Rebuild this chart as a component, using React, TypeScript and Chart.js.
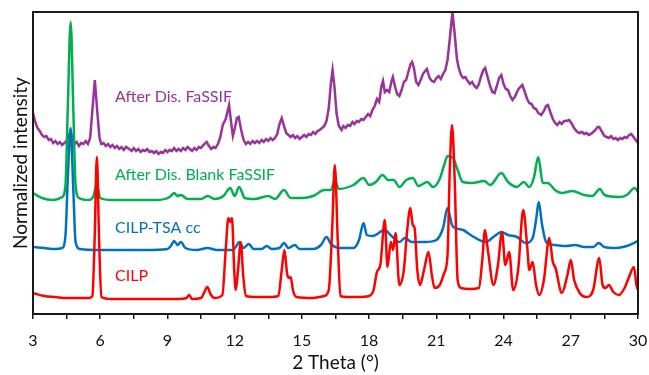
import React, { useEffect, useRef } from "react";
import { Chart, registerables } from "chart.js";
Chart.register(...registerables);

// ---- Data (2θ in degrees, stacked normalized intensity in arbitrary units) ----
const xTicksMin = 3;
const xTicksMax = 30;

const cilpX = [3.0, 3.5, 4.0, 4.5, 5.0, 5.5, 5.65, 5.75, 5.85, 5.95, 6.05, 6.5, 7.5, 8.5, 9.5, 9.85, 9.97, 10.1, 10.5, 10.65, 10.78, 10.92, 11.1, 11.45, 11.6, 11.72, 11.8, 11.88, 11.98, 12.05, 12.15, 12.27, 12.38, 12.5, 13.0, 13.5, 13.95, 14.1, 14.22, 14.35, 14.45, 14.5, 14.6, 14.75, 15.5, 16.0, 16.2, 16.35, 16.47, 16.6, 16.72, 17.0, 17.5, 18.0, 18.2, 18.35, 18.5, 18.7, 18.82, 18.97, 19.07, 19.18, 19.35, 19.55, 19.7, 19.84, 19.95, 20.03, 20.15, 20.27, 20.45, 20.65, 20.8, 20.92, 21.15, 21.35, 21.5, 21.6, 21.7, 21.82, 21.95, 22.1, 22.5, 22.9, 23.05, 23.17, 23.3, 23.55, 23.75, 23.93, 24.08, 24.25, 24.43, 24.65, 24.88, 25.05, 25.15, 25.3, 25.45, 25.6, 25.8, 26.04, 26.2, 26.32, 26.6, 26.85, 27.0, 27.15, 27.4, 27.7, 28.0, 28.27, 28.42, 28.55, 28.7, 28.9, 29.15, 29.4, 29.6, 29.82, 29.93, 30.0];
const cilpY = [21, 18, 17, 16, 16, 16, 18, 74, 157, 74, 17, 15, 15, 15, 15, 16, 19, 15, 16, 22, 27, 20, 16, 19, 64, 96, 92, 96, 44, 24, 44, 72, 39, 18, 17, 17, 18, 44, 64, 39, 36, 37, 24, 17, 16, 18, 24, 84, 149, 74, 18, 17, 17, 18, 24, 42, 49, 94, 47, 72, 64, 81, 29, 44, 84, 106, 89, 86, 44, 29, 44, 62, 39, 26, 29, 41, 59, 144, 189, 134, 34, 26, 25, 26, 54, 84, 64, 29, 49, 82, 49, 62, 24, 44, 104, 69, 44, 52, 29, 19, 34, 76, 52, 46, 21, 39, 54, 34, 21, 17, 24, 56, 29, 26, 29, 22, 19, 26, 37, 47, 29, 24];

const tsaX = [3.0, 3.5, 4.0, 4.3, 4.45, 4.56, 4.68, 4.8, 4.9, 5.1, 6.0, 7.0, 8.0, 9.0, 9.15, 9.3, 9.45, 9.6, 9.8, 10.3, 10.8, 11.2, 11.9, 12.05, 12.2, 12.4, 12.63, 12.85, 13.2, 13.43, 13.65, 14.0, 14.2, 14.4, 14.68, 14.9, 15.5, 15.85, 16.1, 16.3, 16.7, 17.3, 17.55, 17.75, 17.9, 18.15, 18.7, 19.0, 19.35, 19.6, 19.9, 20.5, 21.0, 21.3, 21.5, 21.7, 21.85, 22.2, 22.6, 23.2, 23.6, 23.9, 24.2, 24.6, 25.0, 25.3, 25.45, 25.57, 25.72, 25.9, 26.3, 26.8, 27.2, 27.6, 28.0, 28.25, 28.5, 29.0, 29.5, 30.0];
const tsaY = [67, 66, 65, 66, 79, 140, 186, 124, 72, 65, 64, 64, 64, 65, 68, 73, 69, 72, 66, 64, 66, 64, 64, 67, 72, 66, 70, 65, 65, 68, 65, 66, 71, 66, 69, 65, 65, 69, 77, 70, 66, 66, 74, 91, 79, 78, 84, 78, 72, 76, 72, 72, 74, 86, 106, 89, 86, 84, 78, 72, 78, 82, 79, 77, 71, 76, 94, 112, 89, 72, 69, 68, 69, 67, 67, 71, 67, 66, 68, 73];

const blankX = [3.0, 3.4, 3.9, 4.3, 4.45, 4.55, 4.68, 4.8, 4.9, 5.05, 5.5, 5.7, 5.85, 6.0, 6.5, 7.5, 8.5, 9.1, 9.3, 9.45, 9.6, 9.9, 10.5, 10.8, 11.1, 11.5, 11.8, 12.0, 12.2, 12.45, 12.9, 13.5, 13.8, 14.2, 14.5, 15.0, 15.5, 16.0, 16.3, 16.47, 16.65, 17.3, 17.75, 18.0, 18.3, 18.6, 18.85, 19.1, 19.35, 19.66, 19.95, 20.2, 20.6, 20.85, 21.13, 21.35, 21.5, 21.75, 21.95, 22.18, 22.6, 23.14, 23.4, 23.9, 24.2, 24.6, 24.9, 25.15, 25.35, 25.55, 25.75, 25.96, 26.3, 26.6, 27.07, 27.6, 27.96, 28.3, 28.5, 29.16, 29.5, 29.85, 30.0];
const blankY = [121, 116, 114, 117, 129, 204, 292, 204, 129, 116, 114, 118, 130, 116, 114, 114, 114, 117, 121, 118, 119, 115, 115, 118, 115, 118, 126, 118, 127, 116, 115, 118, 115, 124, 116, 116, 118, 124, 124, 134, 125, 129, 136, 129, 132, 139, 134, 134, 127, 134, 136, 128, 132, 127, 134, 149, 158, 156, 144, 132, 131, 133, 129, 141, 132, 127, 132, 127, 136, 157, 131, 131, 124, 121, 123, 119, 118, 125, 119, 117, 119, 126, 122];

const fassifX = [3.0, 3.1, 3.2, 3.3, 3.4, 3.5, 3.6, 3.7, 3.8, 3.9, 4.0, 4.1, 4.2, 4.3, 4.4, 4.5, 4.6, 4.68, 4.78, 4.85, 4.95, 5.05, 5.15, 5.25, 5.35, 5.45, 5.55, 5.65, 5.76, 5.88, 5.97, 6.05, 6.15, 6.25, 6.35, 6.45, 6.55, 6.65, 6.75, 6.85, 6.95, 7.05, 7.15, 7.3, 7.4, 7.5, 7.6, 7.7, 7.8, 7.9, 8.0, 8.1, 8.2, 8.3, 8.4, 8.5, 8.6, 8.7, 8.8, 8.9, 9.0, 9.1, 9.2, 9.3, 9.4, 9.5, 9.6, 9.7, 9.8, 9.9, 10.0, 10.1, 10.2, 10.3, 10.4, 10.5, 10.6, 10.75, 10.85, 10.95, 11.05, 11.15, 11.25, 11.35, 11.47, 11.6, 11.75, 11.85, 11.92, 12.0, 12.1, 12.18, 12.3, 12.4, 12.5, 12.6, 12.7, 12.8, 12.9, 13.0, 13.1, 13.2, 13.3, 13.4, 13.5, 13.6, 13.7, 13.8, 13.9, 14.0, 14.1, 14.2, 14.3, 14.4, 14.5, 14.6, 14.7, 14.8, 14.9, 15.0, 15.1, 15.2, 15.3, 15.4, 15.5, 15.6, 15.7, 15.8, 15.9, 16.0, 16.1, 16.2, 16.3, 16.37, 16.45, 16.55, 16.65, 16.77, 16.85, 16.95, 17.05, 17.15, 17.26, 17.35, 17.45, 17.55, 17.65, 17.75, 17.85, 17.95, 18.05, 18.15, 18.25, 18.35, 18.45, 18.55, 18.62, 18.7, 18.8, 18.9, 19.0, 19.06, 19.15, 19.25, 19.35, 19.45, 19.55, 19.65, 19.75, 19.85, 19.92, 20.0, 20.1, 20.2, 20.3, 20.4, 20.5, 20.58, 20.7, 20.8, 20.9, 21.0, 21.1, 21.2, 21.3, 21.4, 21.5, 21.6, 21.72, 21.82, 21.92, 22.0, 22.1, 22.2, 22.3, 22.4, 22.5, 22.6, 22.7, 22.8, 22.9, 23.0, 23.1, 23.18, 23.3, 23.4, 23.5, 23.6, 23.7, 23.8, 23.9, 24.0, 24.1, 24.2, 24.3, 24.4, 24.5, 24.6, 24.7, 24.84, 24.95, 25.05, 25.15, 25.25, 25.35, 25.45, 25.55, 25.68, 25.8, 25.9, 25.98, 26.1, 26.2, 26.3, 26.4, 26.5, 26.6, 26.7, 26.8, 26.93, 27.05, 27.15, 27.25, 27.38, 27.5, 27.6, 27.7, 27.8, 27.9, 28.0, 28.1, 28.2, 28.27, 28.4, 28.5, 28.6, 28.7, 28.8, 28.9, 29.0, 29.1, 29.2, 29.3, 29.4, 29.5, 29.6, 29.7, 29.8, 29.9, 30.0];
const fassifY = [201, 192, 186, 183, 179, 177, 178, 174, 175, 171, 173, 170, 172, 169, 171, 173, 179, 182, 175, 170, 172, 168, 171, 170, 173, 170, 176, 204, 234, 199, 176, 170, 171, 168, 170, 167, 169, 166, 168, 165, 167, 164, 167, 165, 163, 166, 163, 165, 162, 164, 163, 165, 162, 163, 161, 163, 160, 162, 161, 164, 162, 164, 163, 166, 163, 165, 163, 166, 164, 167, 165, 163, 166, 164, 167, 166, 169, 172, 168, 165, 167, 166, 170, 176, 189, 195, 209, 190, 178, 185, 196, 197, 183, 174, 170, 172, 170, 173, 171, 173, 171, 174, 172, 175, 173, 176, 174, 176, 180, 190, 196, 188, 181, 179, 177, 179, 176, 178, 175, 177, 179, 177, 180, 179, 182, 180, 183, 184, 186, 188, 193, 206, 232, 244, 228, 200, 188, 184, 188, 186, 189, 188, 192, 190, 193, 192, 195, 194, 197, 200, 198, 204, 208, 215, 212, 228, 233, 222, 224, 222, 233, 237, 228, 220, 218, 224, 232, 234, 242, 250, 252, 246, 232, 229, 234, 240, 243, 245, 236, 233, 232, 236, 238, 235, 240, 244, 254, 275, 302, 280, 255, 246, 239, 236, 237, 233, 230, 232, 228, 226, 230, 238, 244, 246, 236, 228, 222, 221, 228, 236, 239, 230, 225, 224, 218, 214, 217, 222, 226, 229, 222, 215, 211, 210, 206, 205, 201, 199, 203, 208, 209, 201, 195, 191, 189, 192, 190, 193, 193, 194, 190, 186, 183, 181, 182, 180, 181, 179, 180, 182, 184, 187, 187, 182, 178, 177, 176, 178, 175, 176, 174, 176, 175, 177, 176, 179, 180, 177, 174, 171];

const seriesNames = ["CILP", "After Dis. Blank FaSSIF", "CILP-TSA cc", "After Dis. FaSSIF"];
const seriesColors = ["#ff0000", "#00b050", "#0070c0", "#993399"];
const seriesTension = [0.3, 0.3, 0.3, 0];
// label anchor (left edge x in 2θ, vertical centre in intensity units)
const labelX = [6.66, 6.66, 6.66, 6.66];
const labelY = [38, 139, 86, 217];

const toPoints = (xs: number[], ys: number[]) => xs.map((x, i) => ({ x, y: ys[i] }));

const seriesLabelPlugin = {
  id: "seriesLabels",
  afterDatasetsDraw(chart: any) {
    const { ctx, scales } = chart;
    ctx.save();
    ctx.font = "16px Lato";
    ctx.textAlign = "left";
    ctx.textBaseline = "middle";
    seriesNames.forEach((name, i) => {
      ctx.fillStyle = seriesColors[i];
      ctx.fillText(name, scales.x.getPixelForValue(labelX[i]), scales.y.getPixelForValue(labelY[i]));
    });
    ctx.restore();
  },
};

const framePlugin = {
  id: "frame",
  afterDraw(chart: any) {
    const { ctx, chartArea: a } = chart;
    ctx.save();
    ctx.strokeStyle = "#1a1a1a";
    ctx.lineWidth = 2;
    ctx.strokeRect(a.left, a.top, a.right - a.left, a.bottom - a.top);
    ctx.restore();
  },
};

export default function App() {
  const ref = useRef<HTMLCanvasElement>(null);
  useEffect(() => {
    document.body.style.margin = "0";
    const all = [
      toPoints(cilpX, cilpY),
      toPoints(blankX, blankY),
      toPoints(tsaX, tsaY),
      toPoints(fassifX, fassifY),
    ];
    const chart = new Chart(ref.current!, {
      type: "line",
      data: {
        datasets: all.map((pts, i) => ({
          label: seriesNames[i],
          data: pts,
          borderColor: seriesColors[i],
          backgroundColor: seriesColors[i],
          borderWidth: 2.5,
          pointRadius: 0,
          tension: seriesTension[i],
          cubicInterpolationMode: seriesTension[i] > 0 ? ("monotone" as const) : ("default" as const),
          fill: false,
        })),
      },
      options: {
        responsive: false,
        animation: false,
        layout: { padding: { left: 0, right: 11, top: 12, bottom: 0 } },
        plugins: { legend: { display: false }, tooltip: { enabled: false } },
        scales: {
          x: {
            type: "linear",
            min: xTicksMin,
            max: xTicksMax,
            afterFit: (s: any) => {
              s.height = 61;
              s.paddingLeft = 0;
              s.paddingRight = 0;
            },
            ticks: {
              stepSize: 1.5,
              autoSkip: false,
              maxRotation: 0,
              padding: 12,
              color: "#111",
              font: { family: "Lato", size: 16 },
              callback: (v: any) => (Number(v) % 3 === 0 ? String(v) : ""),
            },
            grid: { display: true, drawOnChartArea: false, drawTicks: true, tickLength: 5, color: "#1a1a1a", lineWidth: 1.5 },
            border: { display: true, color: "#1a1a1a", width: 2 },
            title: { display: true, text: "2 Theta (°)", color: "#111", font: { family: "Lato", size: 19 }, padding: { top: 0, bottom: 1 } },
          },
          y: {
            min: 0,
            max: 302,
            afterFit: (s: any) => {
              s.width = 33;
            },
            ticks: { display: false },
            grid: { display: false },
            border: { display: true, color: "#1a1a1a", width: 2 },
            title: { display: true, text: "Normalized intensity", color: "#111", font: { family: "Lato", size: 19 }, padding: { top: 9, bottom: 0 } },
          },
        },
      },
      plugins: [seriesLabelPlugin, framePlugin],
    });
    return () => chart.destroy();
  }, []);
  return (
    <div style={{ width: 649, height: 375 }}>
      <canvas ref={ref} width={649} height={375} style={{ display: "block" }} />
    </div>
  );
}
